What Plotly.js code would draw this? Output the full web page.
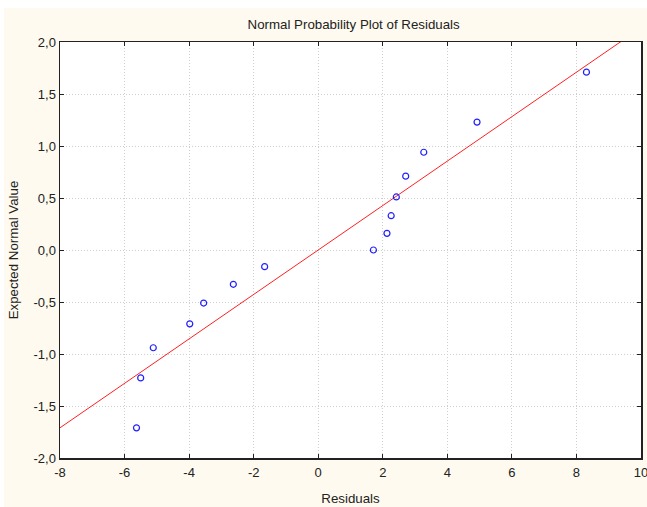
<!DOCTYPE html>
<html>
<head>
<meta charset="utf-8">
<script src="https://cdn.plot.ly/plotly-3.0.1.min.js"></script>
<style>html,body{margin:0;padding:0;background:#fff;}#chart{width:647px;height:507px;}</style>
</head>
<body>
<div id="chart"></div>
<script>
// Residuals (x) and expected normal values (y)
const residuals = [-5.63, -5.50, -5.11, -3.98, -3.55, -2.63, -1.66, 1.71, 2.13, 2.26, 2.42, 2.71, 3.27, 4.92, 8.31];
const expectedNormal = [-1.71, -1.23, -0.94, -0.71, -0.51, -0.33, -0.16, 0.00, 0.16, 0.33, 0.51, 0.71, 0.94, 1.23, 1.71];
// Reference line parameters
const fitSlope = 0.2137;
const fitIntercept = 0;
const lineX = [-8, 10];
// Tick labels
const xTickVals = [-8, -6, -4, -2, 0, 2, 4, 6, 8, 10];
const xTickText = ['-8', '-6', '-4', '-2', '0', '2', '4', '6', '8', '10'];
const yTickVals = [-2, -1.5, -1, -0.5, 0, 0.5, 1, 1.5, 2];
const yTickText = ['-2,0', '-1,5', '-1,0', '-0,5', '0,0', '0,5', '1,0', '1,5', '2,0'];

const lineY = lineX.map(x => fitIntercept + fitSlope * x);

const fam = 'Liberation Sans, Arial, sans-serif';
const txt = '#222';

const traces = [
  {x: lineX, y: lineY, mode: 'lines', line: {color: '#ff2020', width: 1}, hoverinfo: 'skip'},
  {x: residuals, y: expectedNormal, mode: 'markers',
   marker: {symbol: 'circle-open', size: 6, color: '#2020ff', line: {width: 1.2, color: '#2020ff'}}}
];

const axisCommon = {
  showline: true, linecolor: '#222', linewidth: 1.5, mirror: 'ticks',
  ticks: 'inside', ticklen: 4, tickcolor: '#222', tickwidth: 1,
  showgrid: true, gridcolor: '#cfcfcf', griddash: '1px,2px', gridwidth: 1,
  zeroline: false, ticklabeloverflow: 'allow',
  tickfont: {family: fam, size: 13, color: txt}
};

const layout = {
  width: 647, height: 507,
  paper_bgcolor: '#fefaef', plot_bgcolor: '#ffffff',
  margin: {l: 60, r: 6, t: 42, b: 49},
  showlegend: false,
  font: {family: fam, size: 13, color: txt},
  title: {text: 'Normal Probability Plot of Residuals', x: 327/647, xref: 'paper', xanchor: 'center',
          y: 1 - 24.5/507, yanchor: 'middle', yref: 'container',
          font: {family: fam, size: 13.3, color: txt}},
  xaxis: Object.assign({}, axisCommon, {
    range: [-8, 10], tickvals: xTickVals, ticktext: xTickText, ticklabelstandoff: 2,
    title: {text: 'Residuals', standoff: 14, font: {family: fam, size: 13.3, color: txt}}
  }),
  yaxis: Object.assign({}, axisCommon, {
    range: [-2, 2], tickvals: yTickVals, ticktext: yTickText,
    title: {text: 'Expected Normal Value', standoff: 12, font: {family: fam, size: 13.3, color: txt}}
  }),
  shapes: [
    {type: 'rect', xref: 'paper', yref: 'paper', x0: -60/581, x1: 1 + 6/581, y0: 1 + 34/416, y1: 1 + 42/416,
     fillcolor: '#ffffff', line: {width: 0}, layer: 'below'},
    {type: 'rect', xref: 'paper', yref: 'paper', x0: -60/581, x1: -56/581, y0: -49/416, y1: 1 + 42/416,
     fillcolor: '#ffffff', line: {width: 0}, layer: 'below'}
  ]
};

Plotly.newPlot('chart', traces, layout, {staticPlot: true, displayModeBar: false});
</script>
</body>
</html>
